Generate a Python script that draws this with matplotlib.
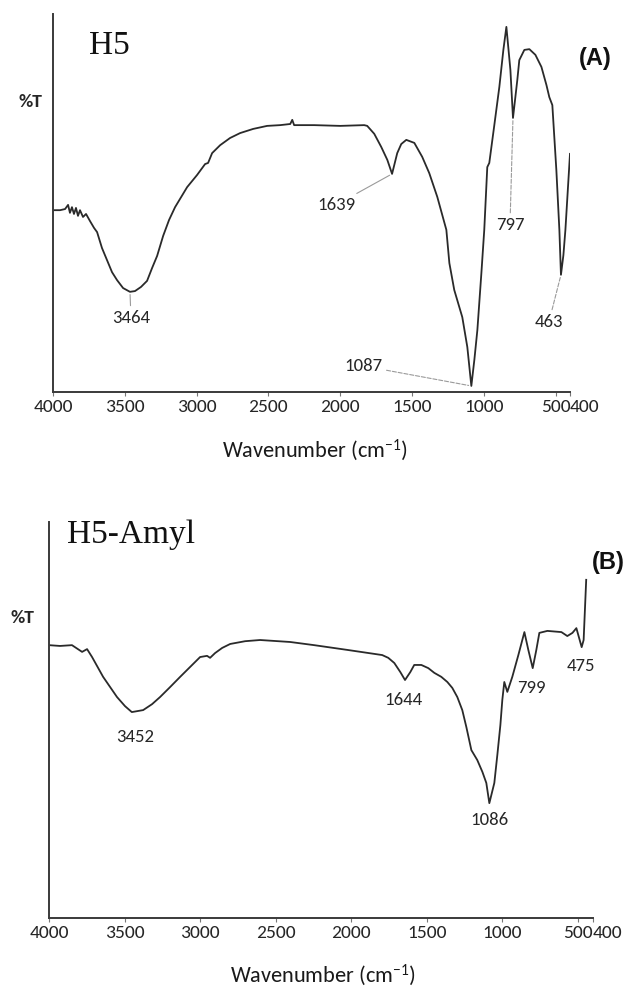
import numpy as np
import matplotlib
matplotlib.use("Agg")
import matplotlib.pyplot as plt

# ---- data: wavenumber (cm-1) and %T (0..100 of the axis height) ----
wn_a = [4000, 3951, 3916, 3895, 3882, 3868, 3854, 3840, 3826, 3812, 3791, 3770, 3742, 3714,
        3693, 3659, 3624, 3589, 3554, 3512, 3464, 3429, 3387, 3345, 3310, 3275, 3233, 3192,
        3150, 3066, 2997, 2941, 2920, 2892, 2836, 2767, 2697, 2606, 2509, 2418, 2348, 2334,
        2321, 2181, 2000, 1833, 1812, 1763, 1714, 1672, 1639, 1603, 1575, 1540, 1484, 1429,
        1380, 1324, 1261, 1240, 1206, 1150, 1115, 1087, 1066, 1045, 1017, 997, 976, 962, 927,
        892, 864, 843, 815, 797, 767, 753, 718, 683, 641, 599, 564, 544, 523, 495, 474, 463,
        446, 432, 411, 400]
t_a = [48.1, 48.1, 48.4, 49.5, 47.4, 48.9, 47.1, 48.7, 46.6, 48.1, 46.3, 47.1, 45.2, 43.4,
       42.3, 38.1, 34.9, 31.7, 29.6, 27.5, 26.5, 26.7, 27.8, 29.4, 32.8, 36.0, 41.3, 45.5,
       48.9, 54.2, 57.4, 60.3, 60.6, 63.2, 65.3, 67.2, 68.5, 69.6, 70.4, 70.6, 70.9, 72.0,
       70.6, 70.6, 70.4, 70.6, 70.4, 68.3, 64.8, 61.4, 57.7, 63.2, 65.6, 66.7, 65.9, 62.2,
       57.9, 51.6, 42.9, 34.1, 27.0, 19.8, 11.9, 1.6, 8.5, 16.4, 31.5, 42.9, 59.5, 60.6, 70.6,
       80.7, 90.5, 96.6, 85.2, 72.5, 82.5, 87.8, 90.5, 90.7, 89.2, 86.0, 81.2, 78.0, 75.9, 58.7,
       42.9, 31.0, 36.2, 42.9, 56.1, 63.0]

wn_b = [4000, 3927, 3848, 3781, 3748, 3715, 3642, 3550, 3497, 3452, 3377, 3318, 3265, 3199,
        3132, 3066, 3000, 2954, 2934, 2901, 2854, 2801, 2702, 2603, 2404, 2245, 2026, 1795,
        1755, 1715, 1675, 1644, 1609, 1583, 1536, 1490, 1450, 1404, 1364, 1331, 1298, 1265,
        1238, 1205, 1166, 1132, 1106, 1086, 1053, 1033, 1013, 1000, 987, 967, 934, 894, 854,
        828, 799, 775, 755, 702, 609, 570, 536, 510, 475, 462, 445]
t_b = [68.9, 68.7, 68.9, 67.2, 67.9, 65.9, 60.9, 55.8, 53.5, 52.0, 52.5, 54.0, 55.8, 58.3,
       60.9, 63.4, 65.9, 66.2, 65.7, 66.9, 68.2, 69.2, 69.9, 70.2, 69.7, 68.9, 67.7, 66.4,
       65.7, 64.4, 62.1, 60.1, 62.1, 63.9, 63.9, 63.1, 61.9, 60.9, 59.6, 58.1, 55.8, 52.5,
       48.2, 42.4, 39.9, 36.9, 34.1, 29.0, 34.1, 41.2, 48.7, 55.1, 59.6, 57.1, 60.9, 66.4, 72.2,
       67.7, 63.1, 67.7, 72.0, 72.5, 72.2, 71.2, 72.0, 73.2, 68.4, 70.2, 85.4]

peaks_a = [3464, 1639, 1087, 797, 463]
peaks_b = [3452, 1644, 1086, 799, 475]

tick_vals = [4000, 3500, 3000, 2500, 2000, 1500, 1000, 500, 400]
tick_labels = ["4000", "3500", "3000", "2500", "2000", "1500", "1000", "500", "400"]

# label offsets from the peak (pixels) and leader line style
offs_a = [(1, -26), (-56, -31), (-108, 20), (-3, -107), (-12, -47)]
lead_a = ["-", "-", "--", "--", "--"]
offs_b = [(3, -25), (-2, -20), (0, -17), (-1, -20), (-1, -19)]

W, H = 628, 990
ink = "#262626"

plt.rcParams["font.family"] = ["Carlito", "DejaVu Sans"]
plt.rcParams["mathtext.fontset"] = "custom"
plt.rcParams["mathtext.rm"] = "Carlito"
plt.rcParams["mathtext.it"] = "Carlito"
plt.rcParams["mathtext.bf"] = "Carlito:bold"

fig = plt.figure(figsize=(W / 100, H / 100), dpi=100)


def px_box(left, top, right, bottom):
    return [left / W, 1 - bottom / H, (right - left) / W, (bottom - top) / H]


def draw_panel(box, wn, t, peaks, offs, leads, title, tag, title_xy, tag_xy, pt_xy, xl_xy):
    ax = fig.add_axes(px_box(*box))
    ax.plot(wn, t, color="#2a2a2a", lw=1.3)
    ax.set_xlim(4000, 400)
    ax.set_ylim(0, 100)
    for s in ["top", "right"]:
        ax.spines[s].set_visible(False)
    for s in ["left", "bottom"]:
        ax.spines[s].set_color("#3a3a3a")
        ax.spines[s].set_linewidth(1.4)
    ax.set_yticks([])
    ax.set_xticks(tick_vals)
    ax.set_xticklabels(tick_labels, fontsize=14, color=ink)
    ax.tick_params(axis="x", length=3, width=0.8, color="#777777", pad=2)
    ax.get_xticklabels()[-1].set_horizontalalignment("left")

    wn_r = np.array(wn)[::-1]
    t_r = np.array(t)[::-1]
    for p, (dx, dy), ls in zip(peaks, offs, leads):
        y = np.interp(p, wn_r, t_r)
        arrow = None
        if ls is not None:
            arrow = dict(arrowstyle="-", color="#9a9a9a", lw=0.8, linestyle=ls,
                         shrinkA=1, shrinkB=2)
        ax.annotate(str(p), xy=(p, y), xytext=(dx, dy), textcoords="offset pixels",
                    ha="center", va="center", fontsize=13.5, color=ink,
                    arrowprops=arrow)

    fig.text(title_xy[0] / W, 1 - title_xy[1] / H, title, family="Liberation Serif",
             fontsize=24, color="#111111", ha="left", va="center")
    fig.text(tag_xy[0] / W, 1 - tag_xy[1] / H, tag, family="Liberation Sans",
             fontsize=17, fontweight="bold", color="#111111", ha="center", va="center")
    fig.text(pt_xy[0] / W, 1 - pt_xy[1] / H, "%T", fontsize=14, fontweight="bold",
             color=ink, ha="center", va="center")
    fig.text(xl_xy[0] / W, 1 - xl_xy[1] / H, "Wavenumber (cm$^{-1}$)", fontsize=16,
             color="#1a1a1a", ha="center", va="center")
    return ax


draw_panel((53, 14, 570, 392), wn_a, t_a, peaks_a, offs_a, lead_a,
           "H5", "(A)", (89, 46), (595, 58), (30, 102), (315, 450))
draw_panel((49, 522, 593, 918), wn_b, t_b, peaks_b, offs_b, [None] * 5,
           "H5-Amyl", "(B)", (67, 535), (608, 562), (22, 618), (323, 975))

fig.savefig("out.png", dpi=100, facecolor="white")
